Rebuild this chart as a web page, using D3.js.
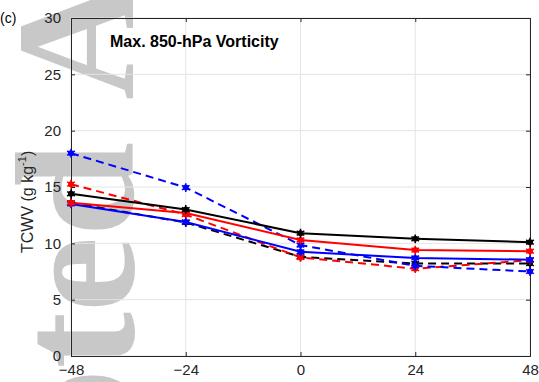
<!DOCTYPE html>
<html>
<head>
<meta charset="utf-8">
<script src="https://cdn.jsdelivr.net/npm/d3@7"></script>
<style>
  body { margin: 0; background: #fff; }
  text { font-family: "Liberation Sans", Arial, sans-serif; }
</style>
</head>
<body>
<div id="svg-container"></div>
<script>
// data
const hours = [-48, -24, 0, 24, 48];
const blackSolid = [14.4, 13.0, 10.9, 10.4, 10.1];
const redSolid = [13.6, 12.7, 10.3, 9.4, 9.3];
const blueSolid = [13.5, 11.9, 9.25, 8.7, 8.55];
const blackDash = [13.6, 11.85, 8.8, 8.2, 8.2];
const redDash = [15.25, 12.55, 8.75, 7.75, 8.5];
const blueDash = [18.0, 14.95, 9.85, 8.0, 7.5];
const yTicks = [0, 5, 10, 15, 20, 25, 30];

const series = [
  { vals: blackDash, color: "#000", dash: true },
  { vals: redDash, color: "#ff0000", dash: true },
  { vals: blueDash, color: "#0000ff", dash: true },
  { vals: blueSolid, color: "#0000ff", dash: false },
  { vals: redSolid, color: "#ff0000", dash: false },
  { vals: blackSolid, color: "#000", dash: false }
];

const width = 539, height = 382;
const margin = { top: 18, right: 9, bottom: 26, left: 71 };

const svg = d3.select("#svg-container").append("svg")
  .attr("width", width).attr("height", height);

const x = d3.scaleLinear().domain([-48, 48]).range([margin.left, width - margin.right]);
const y = d3.scaleLinear().domain([0, 30]).range([height - margin.bottom, margin.top]);

// watermark (bottom layer)
const wm = svg.append("g").attr("transform", "translate(133,142) rotate(-90)")
  .attr("fill", "#c8c8c8");
wm.append("text").attr("x", 0).attr("text-anchor", "end").text("Accepted")
  .style("font-family", "'Liberation Serif', serif").style("font-size", "170px")
  .style("font-weight", "bold");
wm.append("text").attr("x", 42).attr("text-anchor", "start").text("Article")
  .style("font-family", "'Liberation Serif', serif").style("font-size", "170px")
  .style("font-weight", "bold");

// grid
svg.append("g").selectAll("line.gx").data(hours).enter().append("line")
  .attr("x1", d => x(d)).attr("x2", d => x(d))
  .attr("y1", y(0)).attr("y2", y(30))
  .attr("stroke", "#e3e3e3").attr("stroke-width", 1);
svg.append("g").selectAll("line.gy").data(yTicks).enter().append("line")
  .attr("x1", x(-48)).attr("x2", x(48))
  .attr("y1", d => y(d)).attr("y2", d => y(d))
  .attr("stroke", "#e3e3e3").attr("stroke-width", 1);

// axes
const axColor = "#262626";
const xAxis = svg.append("g").attr("transform", `translate(0,${y(0)})`)
  .call(d3.axisBottom(x).tickValues(hours).tickSize(-4).tickPadding(8));
const xTop = svg.append("g").attr("transform", `translate(0,${y(30)})`)
  .call(d3.axisTop(x).tickValues(hours).tickSize(-4).tickFormat(""));
const yAxis = svg.append("g").attr("transform", `translate(${x(-48)},0)`)
  .call(d3.axisLeft(y).tickValues(yTicks).tickSize(-4).tickPadding(10));
const yRight = svg.append("g").attr("transform", `translate(${x(48)},0)`)
  .call(d3.axisRight(y).tickValues(yTicks).tickSize(-4).tickFormat(""));

[xAxis, xTop, yAxis, yRight].forEach(g => {
  g.select(".domain").attr("stroke", axColor).attr("stroke-width", 1);
  g.selectAll(".tick line").attr("stroke", axColor);
  g.selectAll(".tick text").attr("fill", axColor)
    .style("font-size", "15px").style("font-family", "'Liberation Sans', Arial, sans-serif");
});

// lines
const line = d3.line().x((d, i) => x(hours[i])).y(d => y(d));
series.forEach(s => {
  svg.append("path").datum(s.vals)
    .attr("d", line)
    .attr("fill", "none")
    .attr("stroke", s.color)
    .attr("stroke-width", 2)
    .attr("stroke-dasharray", s.dash ? "8,5" : null);
});

// markers
const star = d3.symbol().type(d3.symbolAsterisk).size(55);
series.forEach(s => {
  const g = svg.append("g");
  g.selectAll("circle").data(s.vals).enter().append("circle")
    .attr("cx", (d, i) => x(hours[i])).attr("cy", d => y(d))
    .attr("r", 3).attr("fill", s.color);
  g.selectAll("path").data(s.vals).enter().append("path")
    .attr("transform", (d, i) => `translate(${x(hours[i])},${y(d)})`)
    .attr("d", star).attr("fill", "none")
    .attr("stroke", s.color).attr("stroke-width", 1.5);
});

// texts
svg.append("text").attr("x", 110).attr("y", 47)
  .style("font-size", "16px").style("font-weight", "bold").attr("fill", "#000")
  .text("Max. 850-hPa Vorticity");

svg.append("text").attr("x", 0).attr("y", 23)
  .style("font-size", "14px").attr("fill", "#000").text("(c)");

const yl = svg.append("text")
  .attr("transform", `translate(33,253) rotate(-90)`)
  .attr("text-anchor", "start").attr("fill", axColor).style("font-size", "16px");
yl.append("tspan").text("TCWV (g kg");
yl.append("tspan").attr("dy", -7).style("font-size", "11px").text("-1");
yl.append("tspan").attr("dy", 7).text(")");
</script>
</body>
</html>
